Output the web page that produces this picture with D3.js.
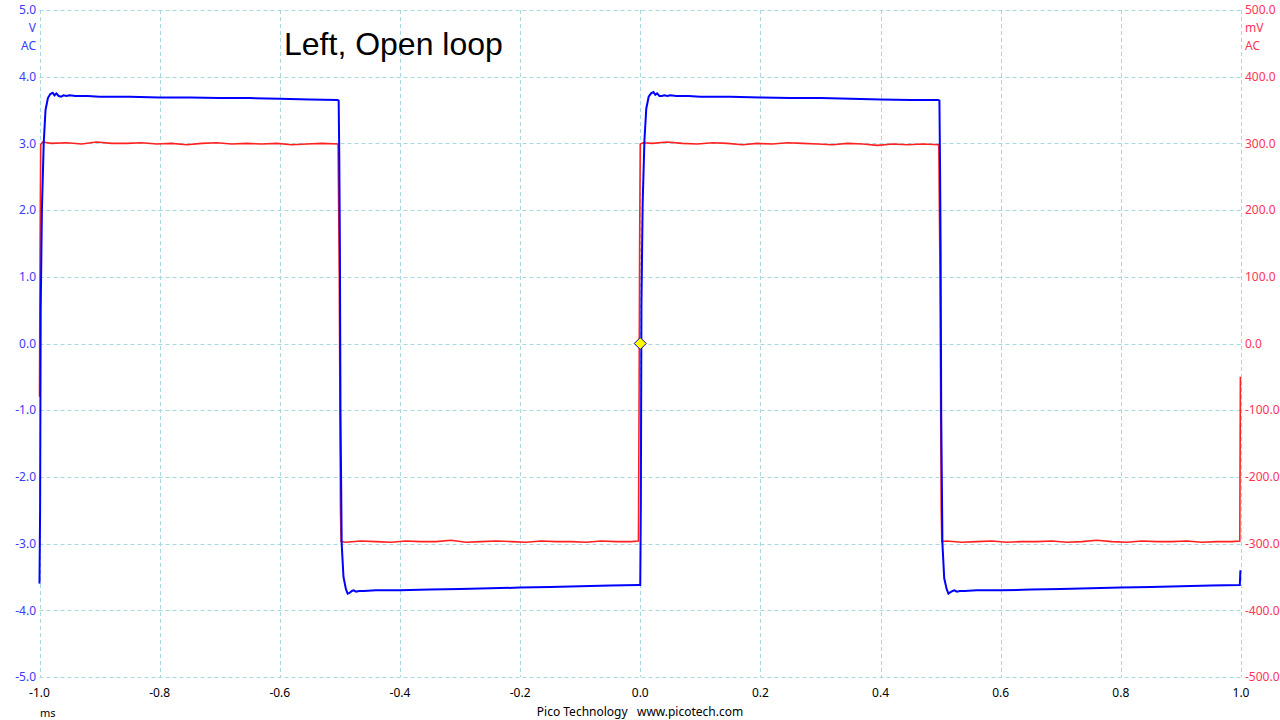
<!DOCTYPE html>
<html><head><meta charset="utf-8">
<script src="https://cdn.jsdelivr.net/npm/d3@7"></script>
<style>body{margin:0;background:#fff}svg{display:block}</style>
</head><body>
<svg id="c" width="1280" height="720"></svg>
<script>
// ---- data ----
const title = "Left, Open loop";
const xTicks = [-1.0,-0.8,-0.6,-0.4,-0.2,0.0,0.2,0.4,0.6,0.8,1.0];
const leftTicks = [5,4,3,2,1,0,-1,-2,-3,-4,-5];
const rightTicks = [500,400,300,200,100,0,-100,-200,-300,-400,-500];
// Channel A (V, blue)
const blueT = [-1.000,-0.999,-0.998,-0.996,-0.993,-0.990,-0.986,-0.982,-0.978,-0.975,-0.972,-0.968,-0.964,-0.960,-0.955,-0.950,-0.940,-0.920,-0.900,-0.850,-0.800,-0.750,-0.700,-0.650,-0.600,-0.550,-0.504,-0.502,-0.501,-0.500,-0.499,-0.497,-0.494,-0.490,-0.487,-0.484,-0.480,-0.477,-0.473,-0.468,-0.460,-0.440,-0.400,-0.350,-0.300,-0.250,-0.200,-0.150,-0.100,-0.050,-0.002,
  0.000,0.001,0.002,0.004,0.007,0.010,0.014,0.018,0.022,0.025,0.028,0.032,0.036,0.040,0.045,0.050,0.060,0.080,0.100,0.150,0.200,0.250,0.300,0.350,0.400,0.450,0.496,0.498,0.499,0.500,0.501,0.503,0.506,0.510,0.513,0.516,0.520,0.523,0.527,0.532,0.540,0.560,0.600,0.650,0.700,0.750,0.800,0.850,0.900,0.950,0.998,0.999];
const blueV = [-3.60,-2.50,0.50,2.00,3.00,3.50,3.68,3.74,3.76,3.72,3.75,3.71,3.70,3.72,3.71,3.72,3.71,3.71,3.70,3.70,3.69,3.69,3.68,3.68,3.67,3.66,3.65,3.64,2.80,1.50,-1.00,-3.00,-3.50,-3.68,-3.75,-3.74,-3.71,-3.70,-3.72,-3.71,-3.71,-3.70,-3.70,-3.69,-3.68,-3.67,-3.66,-3.65,-3.64,-3.63,-3.62,
  -3.62,-2.40,0.60,2.10,3.05,3.52,3.70,3.75,3.77,3.73,3.75,3.71,3.71,3.72,3.71,3.72,3.71,3.71,3.70,3.70,3.69,3.68,3.68,3.67,3.66,3.65,3.65,3.64,2.70,1.40,-1.10,-3.00,-3.52,-3.68,-3.75,-3.73,-3.71,-3.70,-3.72,-3.71,-3.71,-3.70,-3.70,-3.69,-3.68,-3.67,-3.66,-3.65,-3.64,-3.63,-3.62,-3.40];
// Channel B (mV, red)
const redT = [-1.000,-0.999,-0.998,-0.995,-0.980,-0.955,-0.930,-0.905,-0.880,-0.855,-0.830,-0.805,-0.780,-0.755,-0.730,-0.705,-0.680,-0.655,-0.630,-0.605,-0.580,-0.555,-0.530,-0.503,-0.501,-0.499,-0.498,-0.490,-0.465,-0.440,-0.415,-0.390,-0.365,-0.340,-0.315,-0.290,-0.265,-0.240,-0.215,-0.190,-0.165,-0.140,-0.115,-0.090,-0.065,-0.040,-0.015,-0.003,-0.002,-0.001,
  0.000,0.005,0.020,0.045,0.070,0.095,0.120,0.145,0.170,0.195,0.220,0.245,0.270,0.295,0.320,0.345,0.370,0.395,0.420,0.445,0.470,0.497,0.499,0.501,0.502,0.510,0.535,0.560,0.585,0.610,0.635,0.660,0.685,0.710,0.735,0.760,0.785,0.810,0.835,0.860,0.885,0.910,0.935,0.960,0.985,0.998,0.999];
const redV = [-80,150,298,302,300,301,299,302,300,300,301,299,300,298,300,301,299,300,299,300,298,299,300,299,100,-250,-297,-298,-296,-297,-298,-296,-297,-297,-295,-298,-297,-296,-297,-298,-296,-297,-297,-298,-296,-297,-297,-296,-100,150,
  299,301,300,302,300,299,301,300,298,300,299,301,300,299,298,300,299,297,299,298,299,298,100,-250,-297,-296,-298,-297,-296,-298,-297,-297,-296,-298,-297,-295,-297,-298,-296,-297,-297,-296,-298,-297,-297,-296,-50];

// ---- drawing ----
const svg = d3.select("#c");
const x = d3.scaleLinear().domain([-1,1]).range([39.5,1241]);
const yL = d3.scaleLinear().domain([-5,5]).range([677,10]);
const yR = d3.scaleLinear().domain([-500,500]).range([677,10]);
const gridCol = "#a8d8e0";
const font = "'Noto Sans', 'Open Sans', sans-serif";

const g = svg.append("g");
g.selectAll(".vg").data(xTicks).join("line")
  .attr("x1",d=>Math.round(x(d))+0.5).attr("x2",d=>Math.round(x(d))+0.5)
  .attr("y1",yL(5)).attr("y2",yL(-5))
  .attr("stroke",gridCol).attr("stroke-width",1).attr("stroke-dasharray","4,3");
g.selectAll(".hg").data(leftTicks).join("line")
  .attr("x1",x(-1)).attr("x2",x(1))
  .attr("y1",d=>Math.round(yL(d))+0.5).attr("y2",d=>Math.round(yL(d))+0.5)
  .attr("stroke",gridCol).attr("stroke-width",1).attr("stroke-dasharray","4,3");

// axes labels
svg.selectAll(".lt").data(leftTicks).join("text")
  .attr("x",36).attr("y",d=>yL(d)).attr("dy","0.35em").attr("text-anchor","end")
  .attr("font-family",font).attr("font-size",12).attr("fill","#3a3aff")
  .text(d=>d.toFixed(1));
svg.selectAll(".rt").data(rightTicks).join("text")
  .attr("x",1245).attr("y",d=>yR(d)).attr("dy","0.35em").attr("text-anchor","start")
  .attr("font-family",font).attr("font-size",12).attr("fill","#ff3355")
  .text(d=>d.toFixed(1));
svg.selectAll(".bt").data(xTicks).join("text")
  .attr("x",d=>x(d)).attr("y",693).attr("dy","0.35em").attr("text-anchor","middle")
  .attr("font-family",font).attr("font-size",12).attr("fill","#000")
  .text(d=>d.toFixed(1));
const units = [["V",28],["AC",46]];
svg.selectAll(".lu").data(units).join("text")
  .attr("x",36).attr("y",d=>d[1]).attr("dy","0.35em").attr("text-anchor","end")
  .attr("font-family",font).attr("font-size",12).attr("fill","#3a3aff").text(d=>d[0]);
const unitsR = [["mV",28],["AC",46]];
svg.selectAll(".ru").data(unitsR).join("text")
  .attr("x",1245).attr("y",d=>d[1]).attr("dy","0.35em").attr("text-anchor","start")
  .attr("font-family",font).attr("font-size",12).attr("fill","#ff3355").text(d=>d[0]);
svg.append("text").attr("x",40).attr("y",713).attr("dy","0.35em")
  .attr("font-family",font).attr("font-size",11).attr("fill","#000").text("ms");
svg.append("text").attr("x",640).attr("y",712).attr("dy","0.35em").attr("text-anchor","middle")
  .attr("font-family",font).attr("font-size",12).attr("fill","#000")
  .attr("xml:space","preserve").text("Pico Technology   www.picotech.com");

// title
svg.append("text").attr("x",284).attr("y",55)
  .attr("font-family","'Liberation Sans', Arial, sans-serif").attr("font-size",32).attr("fill","#000")
  .text(title);

// series
const redData = redT.map((t,i)=>[t,redV[i]]);
const blueData = blueT.map((t,i)=>[t,blueV[i]]);
svg.append("path").datum(redData)
  .attr("d",d3.line().x(d=>x(d[0])).y(d=>yR(d[1])))
  .attr("fill","none").attr("stroke","#ff2020").attr("stroke-width",1.6);
svg.append("path").datum(blueData)
  .attr("d",d3.line().x(d=>x(d[0])).y(d=>yL(d[1])))
  .attr("fill","none").attr("stroke","#0000ff").attr("stroke-width",2);

// trigger marker
const tx = x(0), ty = yL(0), s = 6;
svg.append("path")
  .attr("d",`M${tx},${ty-s}L${tx+s},${ty}L${tx},${ty+s}L${tx-s},${ty}Z`)
  .attr("fill","#ffff00").attr("stroke","#0000c0").attr("stroke-width",1);
</script>
</body></html>
